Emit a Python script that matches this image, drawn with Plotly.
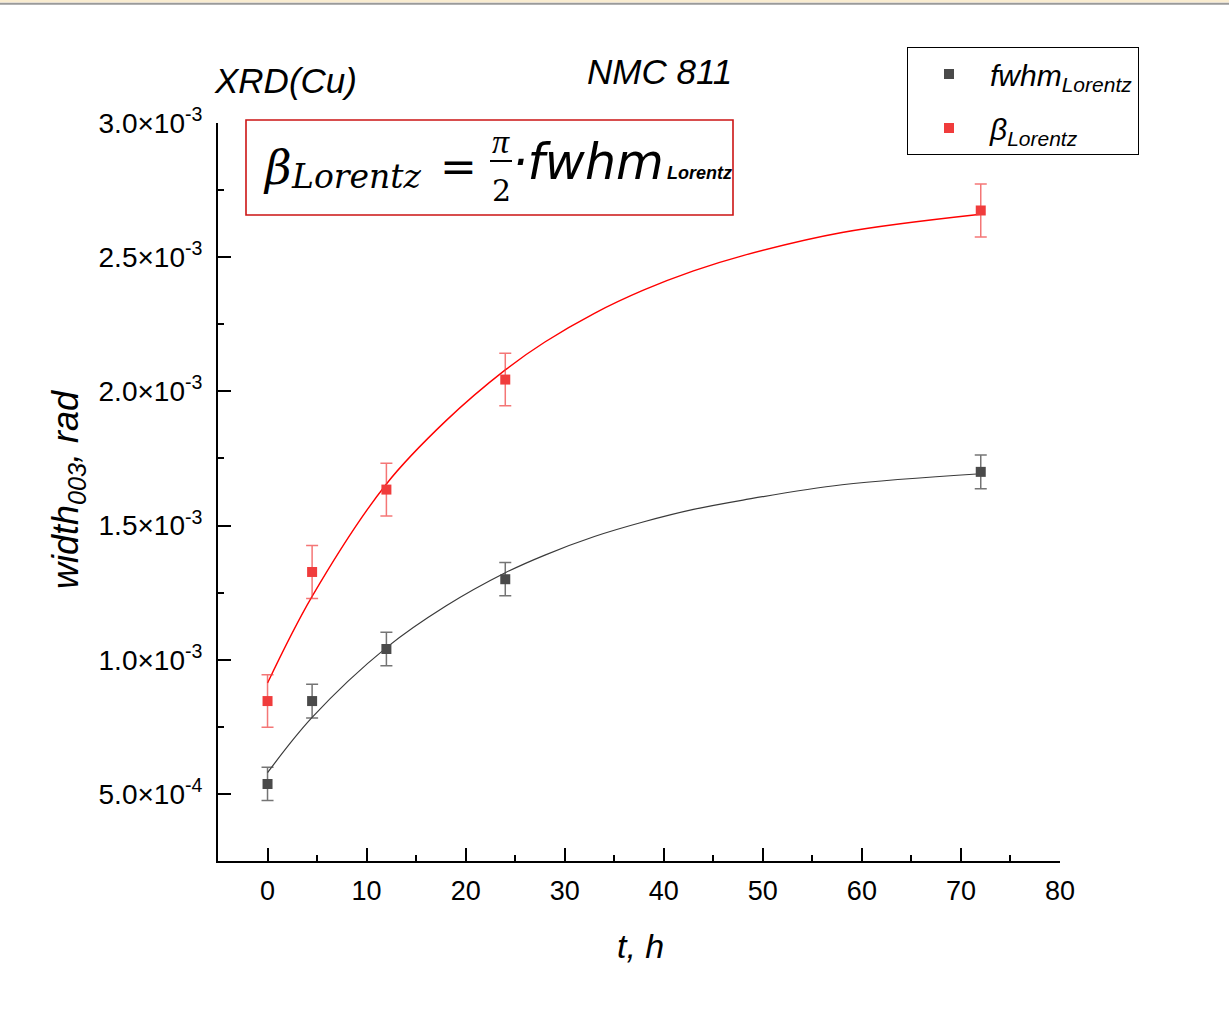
import plotly.graph_objects as go

# ---------------- data ----------------
t_hours = [0, 4.5, 12, 24, 72]
fwhm_lorentz = [5.37e-4, 8.46e-4, 1.04e-3, 1.30e-3, 1.70e-3]
fwhm_err = [6.2e-5, 6.3e-5, 6.2e-5, 6.2e-5, 6.3e-5]
beta_lorentz = [8.46e-4, 1.327e-3, 1.634e-3, 2.044e-3, 2.674e-3]
beta_err = [9.8e-5, 9.9e-5, 9.8e-5, 9.8e-5, 9.9e-5]

# fitted curves
fit_t = [0, 4.5, 12, 18, 24, 28, 33, 38, 43, 48, 58, 72]
fwhm_fit = [5.79e-4, 7.85e-4, 1.045e-3, 1.20e-3, 1.324e-3, 1.39e-3, 1.459e-3,
            1.514e-3, 1.56e-3, 1.595e-3, 1.652e-3, 1.693e-3]
beta_fit = [9.13e-4, 1.236e-3, 1.655e-3, 1.89e-3, 2.08e-3, 2.184e-3, 2.291e-3,
            2.378e-3, 2.449e-3, 2.506e-3, 2.592e-3, 2.66e-3]

x_tickvals = [0, 10, 20, 30, 40, 50, 60, 70, 80]
y_tickvals = [5.0e-4, 1.0e-3, 1.5e-3, 2.0e-3, 2.5e-3, 3.0e-3]
y_ticktext = ["5.0×10<sup>-4</sup>", "1.0×10<sup>-3</sup>", "1.5×10<sup>-3</sup>",
              "2.0×10<sup>-3</sup>", "2.5×10<sup>-3</sup>", "3.0×10<sup>-3</sup>"]

series_names = ["<i>fwhm<sub>Lorentz</sub></i>", "<i>β<sub>Lorentz</sub></i>"]

# ---------------- layout geometry ----------------
W, H = 1229, 1031
PL, PR, PT, PB = 218, 1060, 123, 861


def fx(p):
    return (p - PL) / (PR - PL)


def fy(p):
    return (PB - p) / (PB - PT)


SANS = "Liberation Sans, Arial, sans-serif"
SERIF = "DejaVu Serif, serif"
TSERIF = "Liberation Serif, serif"

BLACK = "#4a4a4a"
RED = "#f03c3c"

fig = go.Figure()

fig.add_trace(go.Scatter(x=fit_t, y=fwhm_fit, mode="lines", line=dict(color="#3a3a3a", width=1.2),
                         line_shape="spline", showlegend=False, hoverinfo="skip"))
fig.add_trace(go.Scatter(x=fit_t, y=beta_fit, mode="lines", line=dict(color="#ff0000", width=1.4),
                         line_shape="spline", showlegend=False, hoverinfo="skip"))

fig.add_trace(go.Scatter(
    x=t_hours, y=fwhm_lorentz, mode="markers", name=series_names[0], legendgroup="a",
    marker=dict(symbol="square", size=10, color=BLACK),
    error_y=dict(type="data", array=fwhm_err, color="rgba(70,70,70,0.75)", thickness=1.5, width=6),
))
fig.add_trace(go.Scatter(
    x=t_hours, y=beta_lorentz, mode="markers", name=series_names[1], legendgroup="b",
    marker=dict(symbol="square", size=10, color=RED),
    error_y=dict(type="data", array=beta_err, color="rgba(240,60,60,0.7)", thickness=1.5, width=6),
))


def ann(text, xp, yp, size, family=SANS, xanchor="center", **kw):
    return dict(text=text, xref="paper", yref="paper", x=fx(xp), y=fy(yp),
                xanchor=xanchor, yanchor="middle", showarrow=False,
                font=dict(family=family, size=size, color="black"), **kw)


annotations = [
    ann("<i>XRD(Cu)</i>", 212, 80, 35, xanchor="left"),
    ann("<i>NMC 811</i>", 585, 71, 35, xanchor="left"),
    ann("<i>width<sub>003</sub>, rad</i>", 68, 490, 36, textangle=-90),
    ann("<i>t, h</i>", 640, 946, 34),
    # equation
    ann("<i>β</i>", 277, 168, 46, family=SERIF),
    ann("<i>Lorentz</i>", 289, 176, 33, family=SERIF, xanchor="left"),
    ann("=", 458, 166, 44, family=SERIF),
    ann("<i>π</i>", 501, 141, 34, family=TSERIF),
    ann("2", 501, 191, 30, family=SERIF),
    ann("<i>·fwhm</i>", 510, 163, 49, family="DejaVu Sans, sans-serif", xanchor="left"),
    ann("<b><i>Lorentz</i></b>", 665, 173, 18, family=SANS, xanchor="left"),
]

shapes = [
    dict(type="rect", xref="paper", yref="paper", x0=fx(246), x1=fx(733), y0=fy(215), y1=fy(120),
         line=dict(color="#cc1414", width=1.6)),
    dict(type="line", xref="paper", yref="paper", x0=fx(490), x1=fx(512), y0=fy(161), y1=fy(161),
         line=dict(color="black", width=2)),
    # window frame strip at the top of the picture
    dict(type="rect", xref="paper", yref="paper", x0=fx(0), x1=fx(W), y0=fy(2.5), y1=fy(0),
         line=dict(width=0), fillcolor="#f9ecd0"),
    dict(type="line", xref="paper", yref="paper", x0=fx(0), x1=fx(W), y0=fy(3.8), y1=fy(3.8),
         line=dict(color="#9a9a9a", width=2)),
]

fig.update_layout(
    width=W, height=H,
    margin=dict(l=PL, r=W - PR, t=PT, b=H - PB, pad=0),
    paper_bgcolor="white", plot_bgcolor="white",
    showlegend=True,
    legend=dict(x=fx(907), y=fy(47), xanchor="left", yanchor="top",
                bordercolor="black", borderwidth=1, bgcolor="white",
                font=dict(family=SANS, size=30, color="black"),
                itemwidth=72, tracegroupgap=12),
    annotations=annotations,
    shapes=shapes,
    xaxis=dict(range=[-5, 80], tickvals=x_tickvals, ticks="inside", ticklen=13, tickwidth=2,
               tickcolor="black", showline=True, linecolor="black", linewidth=2,
               showgrid=False, zeroline=False, mirror=False,
               tickfont=dict(family=SANS, size=27, color="black"), ticklabelstandoff=5,
               minor=dict(dtick=5, tick0=0, ticks="inside", ticklen=6, tickwidth=2, tickcolor="black",
                          showgrid=False)),
    yaxis=dict(range=[2.5e-4, 3.0e-3], tickvals=y_tickvals, ticktext=y_ticktext,
               ticks="inside", ticklen=13, tickwidth=2,
               tickcolor="black", showline=True, linecolor="black", linewidth=2,
               showgrid=False, zeroline=False, mirror=False,
               tickfont=dict(family=SANS, size=28, color="black"), ticklabelstandoff=8,
               minor=dict(dtick=2.5e-4, tick0=0, ticks="inside", ticklen=6, tickwidth=2,
                          tickcolor="black", showgrid=False)),
)

fig.write_html("out.html")
